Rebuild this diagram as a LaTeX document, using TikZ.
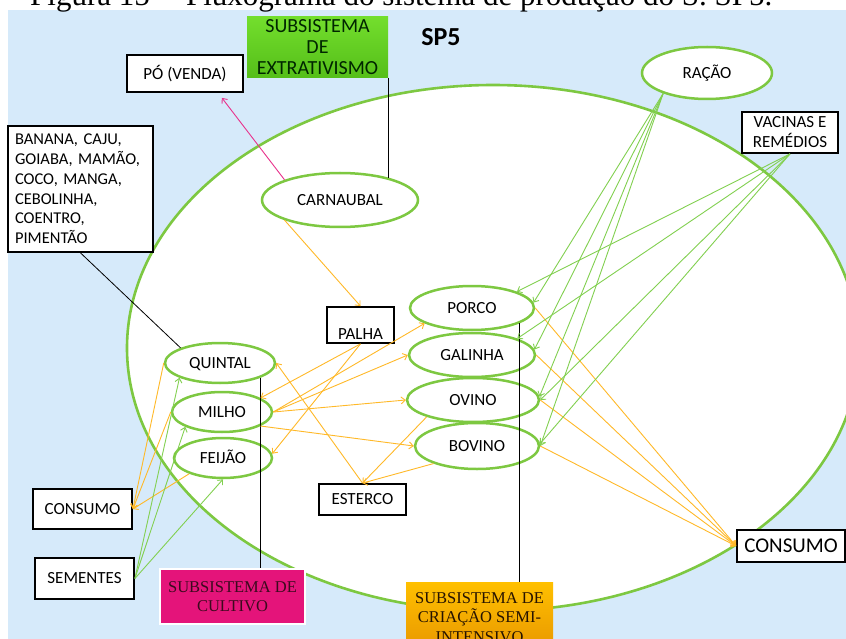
\documentclass[tikz,border=0pt]{standalone}
\usepackage{fontspec}
\setmainfont{Carlito}
\newfontfamily\serifcap{Liberation Serif}
\newfontfamily\condfont{Carlito}
\usetikzlibrary{shapes.geometric,arrows.meta,calc}
\definecolor{bgblue}{RGB}{214,234,250}
\definecolor{ellgreen}{RGB}{125,200,65}
\definecolor{arrgreen}{RGB}{130,208,80}
\definecolor{arrorange}{RGB}{255,185,40}
\definecolor{pinkc}{RGB}{232,50,140}
\definecolor{extrtop}{RGB}{115,222,45}
\definecolor{extrbot}{RGB}{85,190,25}
\definecolor{cultmag}{RGB}{228,20,122}
\definecolor{culttext}{RGB}{60,10,30}
\definecolor{criactop}{RGB}{255,192,0}
\definecolor{criacbot}{RGB}{232,150,0}
\begin{document}
\begin{tikzpicture}[x=1pt,y=-1pt,font=\fontsize{17}{20}\selectfont,
  ell/.style={ellipse,draw=ellgreen,line width=2.5pt,fill=white,inner sep=0pt,text height=11pt,text depth=0pt},
  box/.style={rectangle,draw=black,line width=1.8pt,fill=white,inner sep=0pt,align=center},
  oarr/.style={draw=arrorange,line width=0.9pt,-{Straight Barb[length=4pt,width=7pt]}},
  garr/.style={draw=arrgreen,line width=0.9pt,-{Straight Barb[length=4pt,width=7pt]}},
  parr/.style={draw=pinkc,line width=0.9pt,-{Straight Barb[length=4pt,width=7pt]}},
  blk/.style={draw=black,line width=0.8pt}]
\useasboundingbox (0,0) rectangle (846,639);
\fill[white] (0,0) rectangle (846,639);
\fill[bgblue] (8,10) rectangle (846,639);
\node[anchor=base west,font=\serifcap\fontsize{31}{31}\selectfont,inner sep=0pt] (cap) at (30,6) {Figura 15 -- Fluxograma do sistema de produção do S. SP5.};
\draw[ellgreen,line width=2.6pt,fill=white] (493,348) ellipse [x radius=366,y radius=263];

% title
\node[font=\bfseries\fontsize{26}{26}\selectfont] (sp5) at (441,37) {SP5};

% subsystem boxes
\node[minimum width=141pt,minimum height=61pt,top color=extrtop,bottom color=extrbot,inner sep=0pt,
      font=\condfont\fontsize{20}{21}\selectfont,text=black!85!green,align=center] (extr) at (317.5,47.5)
      {SUBSISTEMA\\DE\\EXTRATIVISMO};
\node[minimum width=145pt,minimum height=55pt,fill=cultmag,draw=white,line width=1.5pt,inner sep=0pt,
      font=\serifcap\fontsize{16.5}{19}\selectfont,text=culttext,align=center] (cult) at (232.5,596.5)
      {SUBSISTEMA DE\\CULTIVO};
\node[anchor=north,minimum width=147pt,minimum height=70pt,top color=criactop,bottom color=criacbot,inner xsep=0pt,inner ysep=8pt,
      font=\serifcap\fontsize{16.5}{19.5}\selectfont,text=black!85!orange,align=center] (criac) at (479.5,582)
      {SUBSISTEMA DE\\CRIAÇÃO SEMI-\\INTENSIVO};

% ellipses
\node[ell,minimum width=156pt,minimum height=54pt] (carn) at (340,200) {CARNAUBAL};
\node[ell,minimum width=130pt,minimum height=52pt] (rac) at (707,73) {RAÇÃO};
\node[ell,minimum width=124pt,minimum height=44pt] (porco) at (472,308) {PORCO};
\node[ell,minimum width=126pt,minimum height=44pt] (gal) at (472,355) {GALINHA};
\node[ell,minimum width=132pt,minimum height=44pt] (ovino) at (473,400) {OVINO};
\node[ell,minimum width=124pt,minimum height=46pt] (bov) at (477,446) {BOVINO};
\node[ell,minimum width=110pt,minimum height=40pt] (quin) at (220,363) {QUINTAL};
\node[ell,minimum width=100pt,minimum height=40pt] (milho) at (222,412) {MILHO};
\node[ell,minimum width=98pt,minimum height=40pt] (feij) at (223,458) {FEIJÃO};

% boxes
\node[box,minimum width=116pt,minimum height=37pt] (po) at (185,73.5) {PÓ (VENDA)};
\node[box,minimum width=96pt,minimum height=41pt] (vac) at (790,132.5) {VACINAS E\\REMÉDIOS};
\node[box,minimum width=145pt,minimum height=126pt,align=left,text width=131pt,inner xsep=7pt,
      font=\fontsize{16.5}{19.8}\selectfont] (ban) at (80.5,189)
      {BANANA, CAJU,\\GOIABA, MAMÃO,\\COCO, MANGA,\\CEBOLINHA,\\COENTRO,\\PIMENTÃO};
\node[box,minimum width=67pt,minimum height=36pt,text height=29pt,text depth=1pt,inner ysep=2.5pt] (palha) at (360.5,325) {PALHA};
\node[box,minimum width=87pt,minimum height=31pt] (est) at (362.5,499.5) {ESTERCO};
\node[box,minimum width=99pt,minimum height=40pt] (consL) at (82.5,509) {CONSUMO};
\node[box,minimum width=99pt,minimum height=41pt] (sem) at (84.5,578.5) {SEMENTES};
\node[box,minimum width=108pt,minimum height=32pt,font=\fontsize{21}{24}\selectfont] (consR) at (791,546) {CONSUMO};

% black links
\draw[blk] (carn.25) -- (carn.25 |- extr.south);
\draw[blk] (ban.south) -- (quin.159);
\draw[blk] (quin.-20) -- (quin.-20 |- cult.north);
\draw[blk] (porco.-18) -- (porco.-18 |- criac.north);

% pink
\draw[parr] (carn.160) -- ($(po.south east)+(-22,5)$);

% orange
\draw[oarr] (carn.200) -- (palha.north);
\draw[oarr] (palha.south) -- (milho.20);
\draw[oarr] (palha.south) -- (feij.5);
\draw[oarr] (milho.east) -- (porco.198);
\draw[oarr] (milho.east) -- (gal.west);
\draw[oarr] (milho.east) -- (ovino.west);
\draw[oarr] (milho.-20) -- (bov.west);
\draw[oarr] (est.north) -- (quin.east);
\draw[oarr] (ovino.200) -- (est.north);
\draw[oarr] (bov.202) -- (est.north);
\draw[oarr] (quin.west) -- (consL.east);
\draw[oarr] (milho.west) -- (consL.east);
\draw[oarr] (feij.205) -- (consL.east);
\draw[oarr] (porco.east) -- (consR.west);
\draw[oarr] (gal.east) -- (consR.west);
\draw[oarr] (ovino.east) -- (consR.west);
\draw[oarr] (bov.east) -- (consR.west);

% green
\draw[garr] (sem.east) -- (quin.200);
\draw[garr] (sem.east) -- (milho.202);
\draw[garr] (sem.east) -- (feij.south);
\draw[garr] (rac.205) -- (porco.5);
\draw[garr] (rac.205) -- (gal.5);
\draw[garr] (rac.205) -- (ovino.3);
\draw[garr] (rac.205) -- (bov.east);
\draw[garr] (vac.south) -- (porco.20);
\draw[garr] (vac.south) -- (gal.20);
\draw[garr] (vac.south) -- (ovino.east);
\draw[garr] (vac.south) -- (bov.2);
\end{tikzpicture}
\end{document}
